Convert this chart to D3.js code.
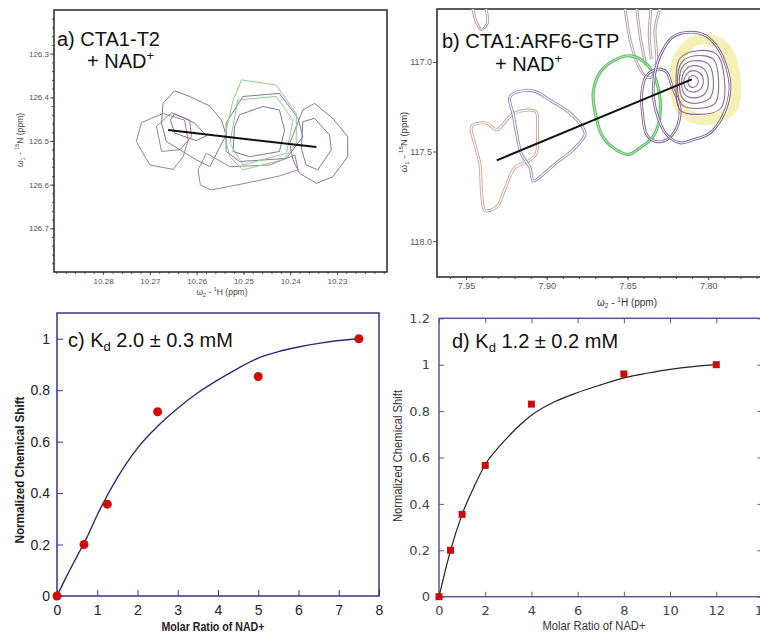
<!DOCTYPE html>
<html>
<head>
<meta charset="utf-8">
<script src="https://cdn.jsdelivr.net/npm/d3@7"></script>
<style>
  body { margin: 0; background: #fff; }
  svg { display: block; font-family: "Liberation Sans", Arial, sans-serif; }
</style>
</head>
<body>
<div id="fig"></div>
<script>
// ---- panel a: CTA1-T2 + NAD+ (1H / 15N, ppm) ----
const aXTicks = [10.28, 10.27, 10.26, 10.25, 10.24, 10.23];
const aYTicks = [126.3, 126.4, 126.5, 126.6, 126.7];
const aMauve = [
  [[10.2729,126.501],[10.2718,126.458],[10.2672,126.437],[10.2626,126.452],[10.2618,126.498],[10.2629,126.536],[10.2650,126.565],[10.2700,126.555]],
  [[10.2686,126.467],[10.2654,126.435],[10.2615,126.452],[10.2611,126.490],[10.2636,126.520],[10.2675,126.524]],
  [[10.2579,126.528],[10.2597,126.566],[10.2592,126.601],[10.2569,126.612],[10.2501,126.598],[10.2423,126.580],[10.2383,126.566],[10.2390,126.532],[10.2444,126.555],[10.2529,126.559]]
];
const aPurple = [
  [[10.2672,126.414],[10.2647,126.385],[10.2615,126.398],[10.2572,126.420],[10.2547,126.452],[10.2537,126.486],[10.2572,126.559],[10.2601,126.543],[10.2665,126.501],[10.2675,126.459]],
  [[10.2656,126.452],[10.2647,126.438],[10.2604,126.459],[10.2579,126.488],[10.2601,126.499],[10.2647,126.482]],
  [[10.2501,126.398],[10.2423,126.391],[10.2383,126.448],[10.2373,126.490],[10.2408,126.540],[10.2508,126.547],[10.2537,126.524],[10.2537,126.459]],
  [[10.2508,126.440],[10.2458,126.421],[10.2423,126.429],[10.2412,126.475],[10.2423,126.524],[10.2487,126.536],[10.2522,126.524],[10.2519,126.467]],
  [[10.2373,126.429],[10.2348,126.414],[10.2309,126.448],[10.2277,126.490],[10.2277,126.536],[10.2309,126.582],[10.2344,126.597],[10.2380,126.574],[10.2394,126.543],[10.2401,126.505]],
  [[10.2373,126.456],[10.2348,126.448],[10.2316,126.486],[10.2312,126.520],[10.2341,126.566],[10.2366,126.555],[10.2376,126.517]]
];
const aGreen = [
  [[10.2504,126.360],[10.2430,126.372],[10.2387,126.437],[10.2387,126.505],[10.2415,126.543],[10.2501,126.566],[10.2529,126.536],[10.2540,126.490],[10.2522,126.406]],
  [[10.2512,126.406],[10.2430,126.398],[10.2394,126.452],[10.2408,126.528],[10.2501,126.555],[10.2529,126.505]]
];
const aShift = [[10.2661,126.475],[10.2344,126.514]];

// ---- panel b: CTA1:ARF6-GTP + NAD+ ----
const bXTicks = [7.95, 7.90, 7.85, 7.80];
const bYTicks = [117.0, 117.5, 118.0];
const bTan = [
  [[7.9465,117.360],[7.9372,117.342],[7.9310,117.379],[7.9217,117.296],[7.9125,117.269],[7.9067,117.278],[7.9058,117.388],[7.9067,117.516],[7.9114,117.553],[7.9197,117.589],[7.9259,117.708],[7.9310,117.809],[7.9383,117.828],[7.9403,117.736],[7.9414,117.571],[7.9445,117.461]]
];
const bBlue = [
  [[7.9228,117.195],[7.9135,117.159],[7.9063,117.168],[7.8980,117.214],[7.8867,117.278],[7.8774,117.370],[7.8763,117.406],[7.8835,117.489],[7.8939,117.562],[7.9021,117.626],[7.9083,117.663],[7.9104,117.589],[7.9156,117.516],[7.9186,117.406],[7.9207,117.296]]
];
const bGreen = [
  [[7.8484,116.966],[7.8381,117.012],[7.8319,117.113],[7.8298,117.296],[7.8340,117.415],[7.8422,117.479],[7.8495,117.516],[7.8588,117.479],[7.8660,117.406],[7.8701,117.278],[7.8712,117.168],[7.8670,117.058],[7.8588,116.994]]
];
const bPurple = [
  [[7.8381,117.076],[7.8309,117.040],[7.8257,117.058],[7.8226,117.131],[7.8175,117.260],[7.8196,117.370],[7.8257,117.434],[7.8329,117.443],[7.8381,117.406],[7.8406,117.296],[7.8412,117.177]],
  [[7.8298,116.966],[7.8226,116.866],[7.8154,116.838],[7.8030,116.847],[7.7948,116.912],[7.7886,117.031],[7.7865,117.150],[7.7906,117.296],[7.7989,117.397],[7.8092,117.434],[7.8175,117.452],[7.8257,117.406],[7.8309,117.315],[7.8340,117.186],[7.8329,117.058]]
];
const bRings = [
  [[7.8096,117.076],[7.8071,117.086],[7.8061,117.109],[7.8075,117.135],[7.8100,117.142],[7.8121,117.128],[7.8125,117.102],[7.8113,117.084]],
  [[7.8096,117.049],[7.8051,117.062],[7.8030,117.104],[7.8047,117.150],[7.8096,117.168],[7.8138,117.150],[7.8150,117.104],[7.8129,117.064]],
  [[7.8092,117.021],[7.8026,117.040],[7.7999,117.104],[7.8020,117.177],[7.8088,117.201],[7.8144,117.183],[7.8164,117.109],[7.8140,117.043]],
  [[7.8088,116.994],[7.7999,117.012],[7.7968,117.098],[7.7989,117.201],[7.8082,117.232],[7.8154,117.208],[7.8179,117.113],[7.8154,117.021]],
  [[7.8082,116.966],[7.7968,116.985],[7.7937,117.086],[7.7958,117.232],[7.8071,117.260],[7.8164,117.238],[7.8191,117.122],[7.8164,117.003]],
  [[7.8075,116.939],[7.7948,116.957],[7.7902,117.076],[7.7923,117.260],[7.8061,117.293],[7.8175,117.269],[7.8199,117.131],[7.8175,116.981]]
];
const bYellow = [
  [[7.8061,116.875],[7.7906,116.912],[7.7834,117.076],[7.7855,117.260],[7.8009,117.324],[7.8154,117.278],[7.8206,117.131],[7.8175,116.966]]
];
const bStems = [
  [[7.9459,116.700],[7.9434,116.783],[7.9403,116.820],[7.9368,116.783],[7.9377,116.700]],
  [[7.8515,116.700],[7.8484,116.875],[7.8433,117.021],[7.8381,117.086],[7.8340,117.076],[7.8319,116.985],[7.8329,116.820],[7.8298,116.700]],
  [[7.8443,116.700],[7.8418,116.875],[7.8385,117.021]],
  [[7.8354,116.700],[7.8365,116.857],[7.8352,116.985]]
];
const bShift = [[7.9310,117.549],[7.8102,117.098]];

// ---- panel c: titration of CTA1-T2 ----
const cRatio = [0, 0.67, 1.25, 2.5, 5, 7.5];
const cShift = [0, 0.2, 0.357, 0.716, 0.853, 1.0];
const cFitRatio = [0, 0.25, 0.5, 0.75, 1, 1.5, 2, 2.5, 3, 3.5, 4, 4.5, 5, 5.5, 6, 6.5, 7, 7.5];
const cFitShift = [0, 0.08, 0.155, 0.23, 0.315, 0.46, 0.575, 0.66, 0.73, 0.79, 0.84, 0.885, 0.925, 0.95, 0.968, 0.982, 0.993, 1.0];
const cXTicks = [0, 1, 2, 3, 4, 5, 6, 7, 8];
const cYTicks = [0, 0.2, 0.4, 0.6, 0.8, 1];

// ---- panel d: titration of CTA1:ARF6-GTP ----
const dRatio = [0, 0.5, 1, 2, 4, 8, 12];
const dShift = [0, 0.2, 0.355, 0.566, 0.83, 0.96, 1.0];
const dFitRatio = [0, 0.5, 1, 1.5, 2, 2.5, 3, 3.5, 4, 5, 6, 7, 8, 9, 10, 11, 12];
const dFitShift = [0, 0.2, 0.355, 0.47, 0.57, 0.635, 0.69, 0.74, 0.782, 0.84, 0.88, 0.913, 0.943, 0.963, 0.98, 0.992, 1.0];
const dXTicks = [0, 2, 4, 6, 8, 10, 12, 14];
const dYTicks = [0, 0.2, 0.4, 0.6, 0.8, 1, 1.2];

const svg = d3.select("#fig").append("svg").attr("width", 760).attr("height", 635);
const defs = svg.append("defs");

// text with sub/superscripts: parts = [[text, "sub"|"sup"|undefined], ...]
function rich(g, x, y, fs, parts) {
  const t = g.append("text").attr("x", x).attr("y", y).attr("font-size", fs);
  let shift = 0;
  parts.forEach(([s, k]) => {
    const target = k === "sup" ? -0.42 * fs : k === "sub" ? 0.22 * fs : 0;
    t.append("tspan").attr("dy", target - shift).attr("font-size", k ? fs * 0.65 : fs).text(s);
    shift = target;
  });
  return t;
}

function styleAxis(sel, fs, color, family) {
  sel.select(".domain").remove();
  sel.selectAll("line").attr("stroke", color);
  sel.selectAll("text").attr("font-size", fs).attr("fill", color)
    .attr("font-family", family || null);
}

// ------------------------------------------------------------------
// NMR panel
function nmrPanel({ box, x, y, xTicks, yTicks, xMinor, yMinor, fmt, fs, id }) {
  const g = svg.append("g");
  defs.append("clipPath").attr("id", id).append("rect")
    .attr("x", box[0]).attr("y", box[1]).attr("width", box[2] - box[0]).attr("height", box[3] - box[1]);

  g.append("g").attr("transform", `translate(0,${box[3]})`)
    .call(d3.axisBottom(x).tickValues(xMinor).tickSize(2).tickFormat(""))
    .call(s => styleAxis(s, fs, "#555"));
  g.append("g").attr("transform", `translate(0,${box[3]})`)
    .call(d3.axisBottom(x).tickValues(xTicks).tickSize(3).tickPadding(3).tickFormat(d3.format(fmt[0])))
    .call(s => styleAxis(s, fs, "#555"));
  if (yMinor.length)
    g.append("g").attr("transform", `translate(${box[0]},0)`)
      .call(d3.axisLeft(y).tickValues(yMinor).tickSize(2).tickFormat(""))
      .call(s => styleAxis(s, fs, "#555"));
  g.append("g").attr("transform", `translate(${box[0]},0)`)
    .call(d3.axisLeft(y).tickValues(yTicks).tickSize(4).tickPadding(1).tickFormat(d3.format(fmt[1])))
    .call(s => styleAxis(s, fs, "#555"));

  g.append("rect").attr("x", box[0]).attr("y", box[1])
    .attr("width", box[2] - box[0]).attr("height", box[3] - box[1])
    .attr("fill", "none").attr("stroke", "#333").attr("stroke-width", 1.6);

  const plot = g.append("g").attr("clip-path", `url(#${id})`);
  return { g, plot };
}

function drawContours(plot, x, y, polys, color, width, curve, doubled) {
  const path = d3.line().x(d => x(d[0])).y(d => y(d[1])).curve(curve);
  polys.forEach(p => {
    plot.append("path").attr("d", path(p)).attr("fill", "none")
      .attr("stroke", color).attr("stroke-width", doubled ? width + 2 : width)
      .attr("stroke-linejoin", "round");
    if (doubled)
      plot.append("path").attr("d", path(p)).attr("fill", "none")
        .attr("stroke", "#fff").attr("stroke-width", doubled).attr("stroke-linejoin", "round");
  });
}

// ---- panel a ----
{
  const x = d3.scaleLinear().domain([10.2905, 10.2193]).range([54, 387]);
  const y = d3.scaleLinear().domain([126.2, 126.8]).range([10, 272]);
  const { g, plot } = nmrPanel({
    box: [54, 10, 387, 272], x, y, xTicks: aXTicks, yTicks: aYTicks,
    xMinor: d3.range(10.29, 10.2195, -0.002), yMinor: d3.range(126.22, 126.8, 0.02),
    fmt: [".2f", ".1f"], fs: 8, id: "clipA"
  });
  drawContours(plot, x, y, aMauve, "#9c8290", 1, d3.curveLinearClosed);
  drawContours(plot, x, y, aPurple, "#83769a", 1, d3.curveLinearClosed);
  drawContours(plot, x, y, aGreen, "#8fcb8f", 1, d3.curveLinearClosed);
  plot.append("path")
    .attr("d", d3.line().x(d => x(d[0])).y(d => y(d[1]))(aShift))
    .attr("stroke", "#111").attr("stroke-width", 2);

  rich(g, 57, 46, 20, [["a) CTA1-T2"]]).attr("fill", "#111");
  rich(g, 87, 68, 20, [["+ NAD"], ["+", "sup"]]).attr("fill", "#111");
  rich(g, 0, 0, 8.5, [["ω"], ["1", "sub"], [" - "], ["15", "sup"], ["N  (ppm)"]])
    .attr("text-anchor", "middle").attr("fill", "#444")
    .attr("transform", "translate(23,140) rotate(-90)");
  rich(g, 222, 295, 8.5, [["ω"], ["2", "sub"], [" - "], ["1", "sup"], ["H  (ppm)"]])
    .attr("text-anchor", "middle").attr("fill", "#444");
}

// ---- panel b ----
{
  const x = d3.scaleLinear().domain([7.968, 7.7617]).range([437, 770]);
  const y = d3.scaleLinear().domain([116.705, 118.2]).range([9, 277]);
  const { g, plot } = nmrPanel({
    box: [437, 9, 770, 277], x, y, xTicks: bXTicks, yTicks: bYTicks,
    xMinor: d3.range(7.96, 7.765, -0.01), yMinor: [],
    fmt: [".2f", ".1f"], fs: 9, id: "clipB"
  });
  drawContours(plot, x, y, bYellow, "rgba(236,226,110,0.5)", 11, d3.curveCatmullRomClosed);
  drawContours(plot, x, y, bStems, "#b9a3a6", 1, d3.curveCatmullRom, 1);
  drawContours(plot, x, y, bTan, "#c5a698", 1, d3.curveCatmullRomClosed, 1.2);
  drawContours(plot, x, y, bBlue, "#8a8db5", 1, d3.curveCatmullRomClosed, 1.2);
  drawContours(plot, x, y, bGreen, "#5fbf68", 1.2, d3.curveCatmullRomClosed, 0.6);
  drawContours(plot, x, y, bPurple, "#7a6898", 0.8, d3.curveCatmullRomClosed, 1);
  drawContours(plot, x, y, bRings, "#8a6c92", 1.1, d3.curveCatmullRomClosed);
  plot.append("path")
    .attr("d", d3.line().x(d => x(d[0])).y(d => y(d[1]))(bShift))
    .attr("stroke", "#111").attr("stroke-width", 2);

  rich(g, 442, 48, 20, [["b) CTA1:ARF6-GTP"]]).attr("fill", "#111");
  rich(g, 495, 71, 20, [["+ NAD"], ["+", "sup"]]).attr("fill", "#111");
  rich(g, 0, 0, 9.5, [["ω"], ["1", "sub"], [" - "], ["15", "sup"], ["N  (ppm)"]])
    .attr("text-anchor", "middle").attr("fill", "#333")
    .attr("transform", "translate(407,142) rotate(-90)");
  rich(g, 627, 306, 10, [["ω"], ["2", "sub"], [" - "], ["1", "sup"], ["H  (ppm)"]])
    .attr("text-anchor", "middle").attr("fill", "#333");
}

// ---- panel c ----
{
  const g = svg.append("g");
  const x = d3.scaleLinear().domain([0, 8]).range([57, 379]);
  const y = d3.scaleLinear().domain([0, 1.1]).range([596, 313]);
  const navy = "#34348a";
  g.append("g").attr("transform", "translate(0,596)")
    .call(d3.axisBottom(x).tickValues(cXTicks).tickSizeInner(-6).tickSizeOuter(0).tickPadding(9))
    .call(s => styleAxis(s, 14, "#222"))
    .call(s => s.selectAll("line").attr("stroke", navy));
  g.append("g").attr("transform", "translate(57,0)")
    .call(d3.axisLeft(y).tickValues(cYTicks).tickSizeInner(-6).tickSizeOuter(0).tickPadding(7).tickFormat(d => String(d)))
    .call(s => styleAxis(s, 14, "#222"))
    .call(s => s.selectAll("line").attr("stroke", navy));
  g.append("rect").attr("x", 57).attr("y", 313).attr("width", 322).attr("height", 283)
    .attr("fill", "none").attr("stroke", navy).attr("stroke-width", 1.5);

  g.append("path")
    .attr("d", d3.line().x((d, i) => x(cFitRatio[i])).y(d => y(d)).curve(d3.curveMonotoneX)(cFitShift))
    .attr("fill", "none").attr("stroke", "#2a2a78").attr("stroke-width", 1.4);
  g.selectAll(".cpt").data(cRatio).enter().append("circle")
    .attr("cx", d => x(d)).attr("cy", (d, i) => y(cShift[i])).attr("r", 4.5)
    .attr("fill", "#d10a0a");

  rich(g, 68, 347, 20, [["c) K"], ["d", "sub"], [" 2.0 ± 0.3 mM"]]).attr("fill", "#111");
  g.append("text").attr("transform", "translate(24,470) rotate(-90)")
    .attr("text-anchor", "middle").attr("font-weight", "bold").attr("font-size", 12)
    .attr("textLength", 147).attr("lengthAdjust", "spacingAndGlyphs").attr("fill", "#222")
    .text("Normalized Chemical Shift");
  g.append("text").attr("x", 213).attr("y", 631)
    .attr("text-anchor", "middle").attr("font-weight", "bold").attr("font-size", 12)
    .attr("textLength", 103).attr("lengthAdjust", "spacingAndGlyphs").attr("fill", "#222")
    .text("Molar Ratio of NAD+");
}

// ---- panel d ----
{
  const g = svg.append("g");
  const x = d3.scaleLinear().domain([0, 14]).range([439, 762.5]);
  const y = d3.scaleLinear().domain([0, 1.2]).range([596.7, 318.3]);
  const slate = "#55559a";
  const fam = "'DejaVu Sans', Verdana, sans-serif";
  g.append("g").attr("transform", "translate(0,596.7)")
    .call(d3.axisBottom(x).tickValues(dXTicks).tickSizeInner(-5).tickSizeOuter(0).tickPadding(9))
    .call(s => styleAxis(s, 13, "#444", fam))
    .call(s => s.selectAll("line").attr("stroke", slate));
  g.append("g").attr("transform", "translate(0,318.3)")
    .call(d3.axisTop(x).tickValues(dXTicks).tickSizeInner(-5).tickSizeOuter(0).tickFormat(""))
    .call(s => styleAxis(s, 13, slate));
  g.append("g").attr("transform", "translate(439,0)")
    .call(d3.axisLeft(y).tickValues(dYTicks).tickSizeInner(-5).tickSizeOuter(0).tickPadding(9).tickFormat(d => String(d)))
    .call(s => styleAxis(s, 13, "#444", fam))
    .call(s => s.selectAll("line").attr("stroke", slate));
  g.append("g").attr("transform", "translate(762.5,0)")
    .call(d3.axisRight(y).tickValues(dYTicks).tickSizeInner(-5).tickSizeOuter(0).tickFormat(""))
    .call(s => styleAxis(s, 13, slate));
  g.append("rect").attr("x", 439).attr("y", 318.3).attr("width", 323.5).attr("height", 278.4)
    .attr("fill", "none").attr("stroke", slate).attr("stroke-width", 1.5);

  g.append("path")
    .attr("d", d3.line().x((d, i) => x(dFitRatio[i])).y(d => y(d)).curve(d3.curveMonotoneX)(dFitShift))
    .attr("fill", "none").attr("stroke", "#222").attr("stroke-width", 1.2);
  g.selectAll(".dpt").data(dRatio).enter().append("rect")
    .attr("x", d => x(d) - 3.5).attr("y", (d, i) => y(dShift[i]) - 3.5)
    .attr("width", 7).attr("height", 7).attr("fill", "#cc0a0a");

  rich(g, 452, 348, 20, [["d) K"], ["d", "sub"], [" 1.2 ± 0.2 mM"]]).attr("fill", "#111");
  g.append("text").attr("transform", "translate(402,456) rotate(-90)")
    .attr("text-anchor", "middle").attr("font-size", 12.5)
    .attr("textLength", 132).attr("lengthAdjust", "spacingAndGlyphs").attr("fill", "#333")
    .text("Normalized Chemical Shift");
  g.append("text").attr("x", 594).attr("y", 630)
    .attr("text-anchor", "middle").attr("font-size", 12.5)
    .attr("textLength", 103).attr("lengthAdjust", "spacingAndGlyphs").attr("fill", "#333")
    .text("Molar Ratio of NAD+");
}
</script>
</body>
</html>
